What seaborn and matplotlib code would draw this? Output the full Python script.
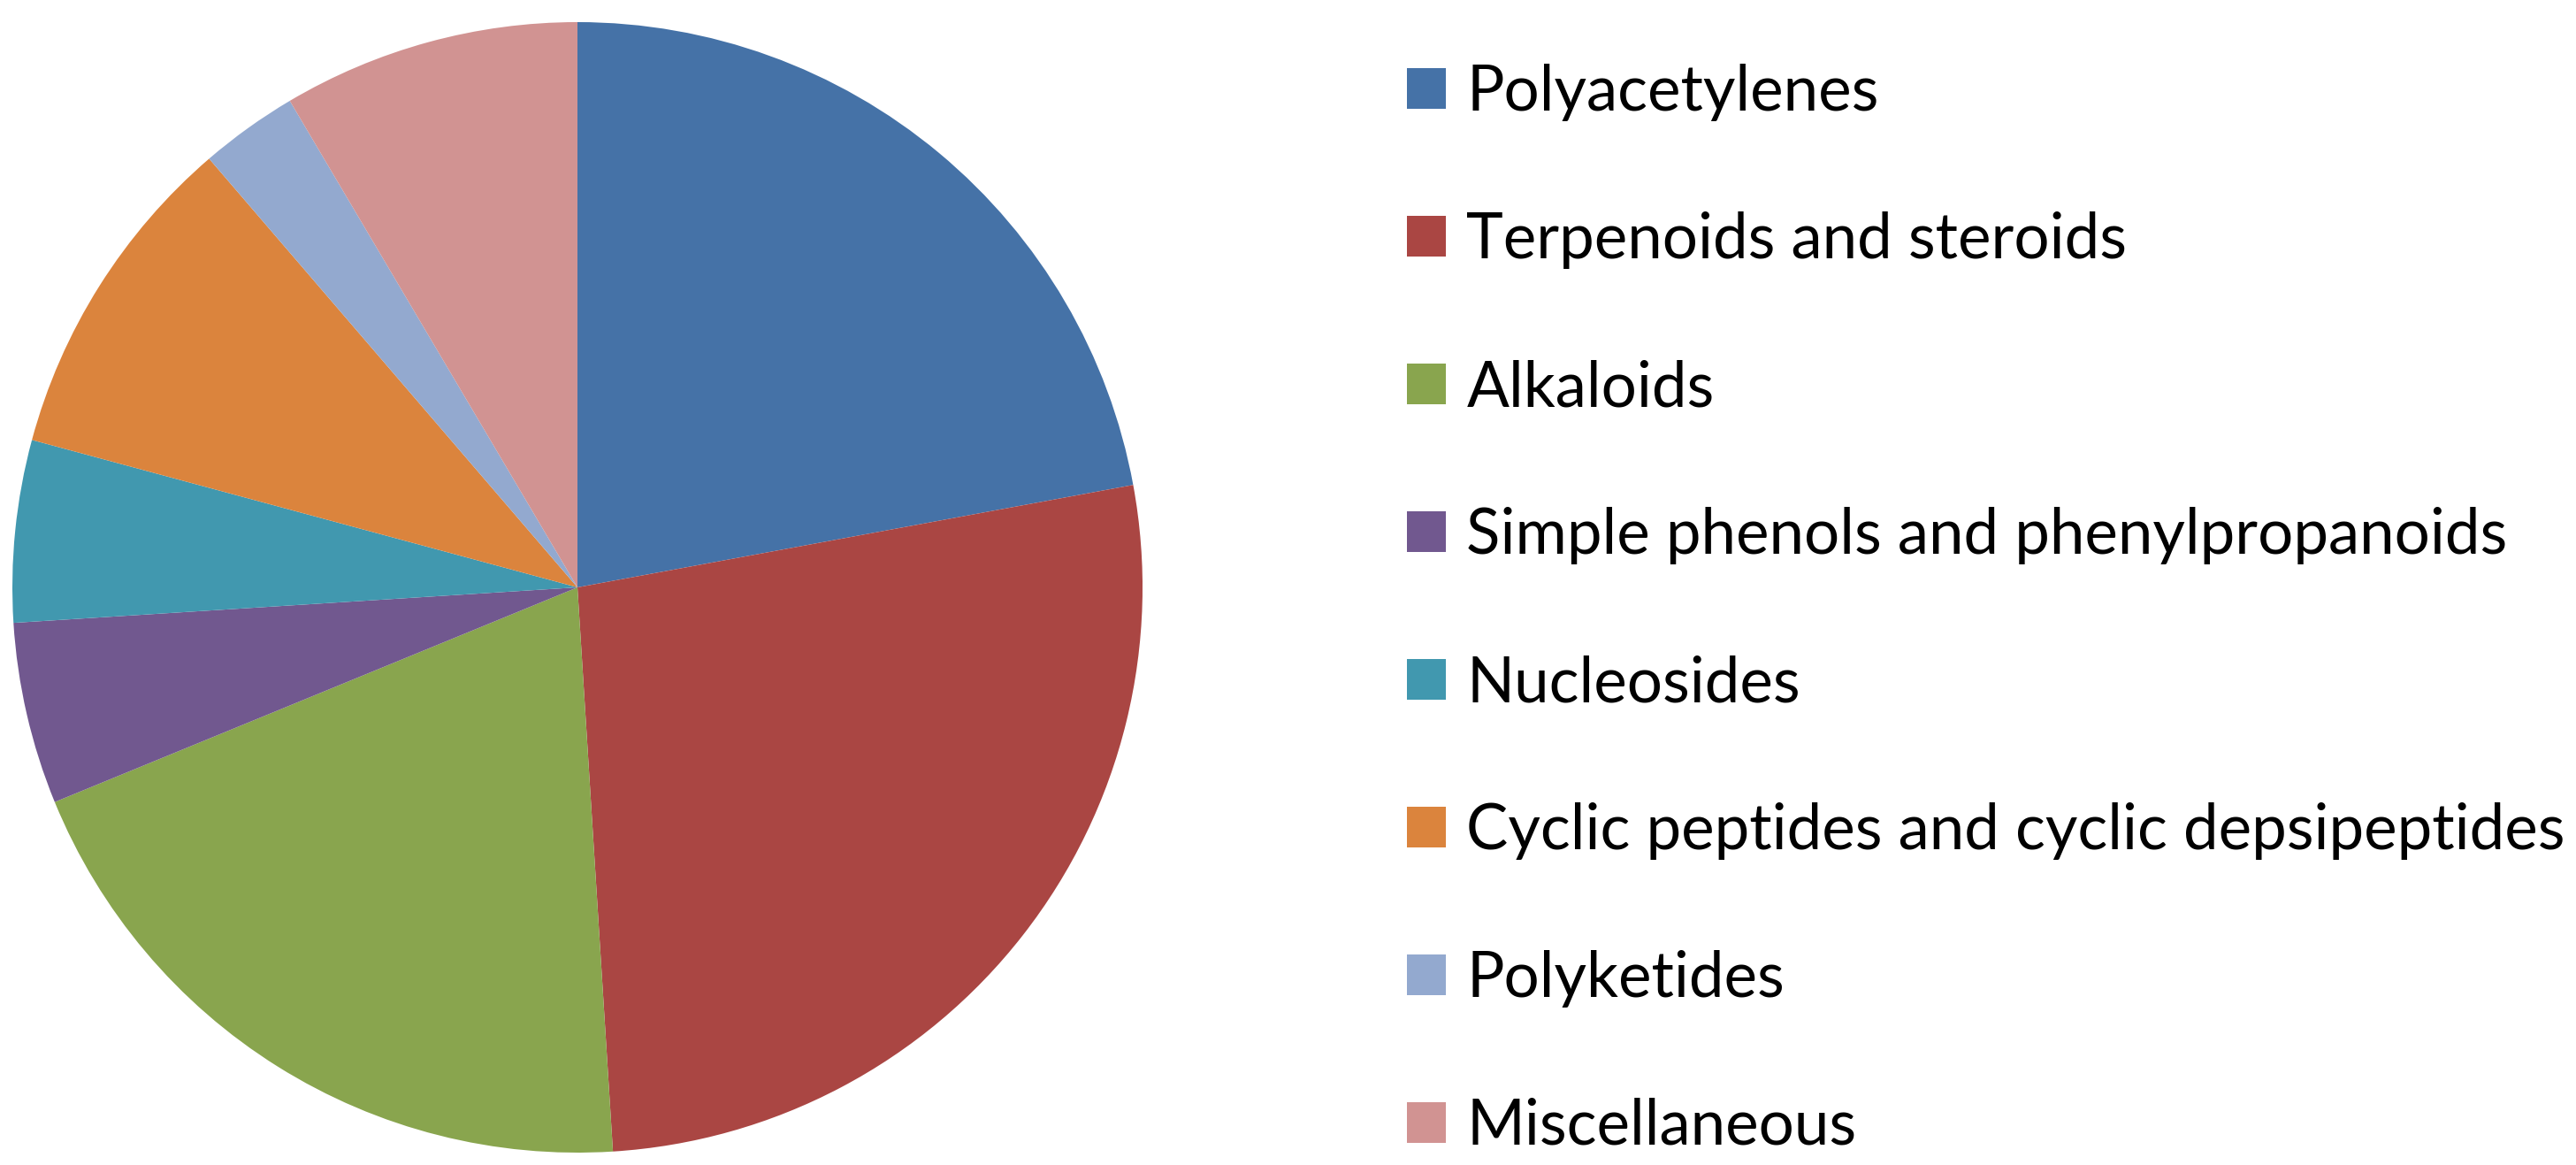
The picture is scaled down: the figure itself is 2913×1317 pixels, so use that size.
import matplotlib
matplotlib.use("Agg")
import matplotlib.pyplot as plt
import seaborn as sns
from matplotlib.patches import Patch

categories = [
    "Polyacetylenes",
    "Terpenoids and steroids",
    "Alkaloids",
    "Simple phenols and phenylpropanoids",
    "Nucleosides",
    "Cyclic peptides and cyclic depsipeptides",
    "Polyketides",
    "Miscellaneous",
]
values = [22.1, 26.9, 19.8, 5.2, 5.2, 9.5, 2.8, 8.5]
hex_colors = ["#4572A7", "#AA4643", "#89A54E", "#71588F",
              "#4198AF", "#DB843D", "#93A9CF", "#D19392"]

sns.set_theme(style="white")
plt.rcParams["font.family"] = ["Lato", "DejaVu Sans"]
palette = sns.color_palette(hex_colors)

W, H = 2913, 1317
fig = plt.figure(figsize=(W / 100, H / 100), dpi=100)
cx, cy, r = 653, 1317 - 664, 639
ax = fig.add_axes([(cx - r) / W, (cy - r) / H, 2 * r / W, 2 * r / H])
wedges, _ = ax.pie(values, colors=palette, startangle=90, counterclock=False,
                   radius=1, wedgeprops=dict(linewidth=0))
ax.set_xlim(-1, 1)
ax.set_ylim(-1, 1)
ax.axis("off")

handles = [Patch(facecolor=c, edgecolor="none") for c in palette]
leg = fig.legend(handles, categories, loc="upper left",
                 bbox_to_anchor=(1591 / W, 1 - 72 / H),
                 frameon=False, fontsize=51, labelspacing=1.44,
                 handlelength=0.62, handleheight=0.62, handletextpad=0.33,
                 borderpad=0, borderaxespad=0)
for t in leg.get_texts():
    t.set_color("black")

fig.savefig("out.png", dpi=100, facecolor="white")
